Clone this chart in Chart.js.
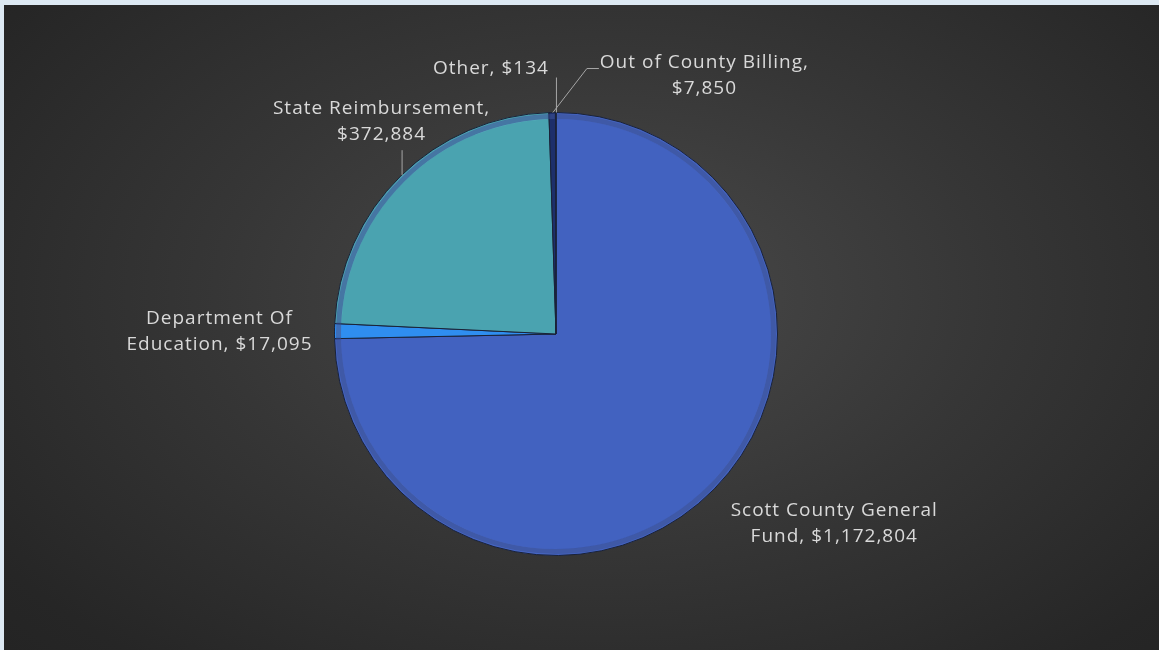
<!DOCTYPE html>
<html>
<head>
<meta charset="utf-8">
<script src="https://cdn.jsdelivr.net/npm/chart.js@4"></script>
<style>
  html, body { margin: 0; padding: 0; background: #dde9f3; }
  #panel {
    position: absolute; left: 4px; top: 5px; width: 1155px; height: 645px;
    background: radial-gradient(ellipse 75% 85% at 52% 45%, #4a4a4a 0%, #363636 45%, #262626 85%, #232323 100%);
  }
</style>
</head>
<body>
<div id="panel"><canvas id="fundChart" width="1155" height="645"></canvas></div>
<script>
// Data
var sources = ["Scott County General Fund", "Department Of Education", "State Reimbursement", "Out of County Billing", "Other"];
var amounts = [1172804, 17095, 372884, 7850, 134];
var labelLines = [
    ["Scott County General", "Fund, $1,172,804"],
    ["Department Of", "Education, $17,095"],
    ["State Reimbursement,", "$372,884"],
    ["Out of County Billing,", "$7,850"],
    ["Other, $134"]
];
var sliceColors = ["#4262c0", "#2f8ef0", "#4aa3b0", "#1d2f6b", "#2a3c78"];
var rimColors = ["#5b7fe0", "#66b8ff", "#70ccd9", "#34478a", "#34478a"];

// label placement relative to the middle of each slice's outer edge
var labelLayout = [
    { dx: 120, dy: 35, leader: null },
    { dx: -115, dy: 0, leader: null },
    { dx: -19, dy: -55, leader: [[1, -1], [1, -26]] },
    { dx: 152, dy: -37, leader: [[0, 0], [34, -44], [46, -44]] },
    { dx: -65, dy: -44, leader: [[0, 0], [0, -35]] }
];

var bevelAndLabels = {
    id: 'bevelAndLabels',
    afterDatasetsDraw: function(chart) {
        var c = chart.ctx;
        var arcs = chart.getDatasetMeta(0).data;
        arcs.forEach(function(arc, i) {
            var p = arc.getProps(['x', 'y', 'startAngle', 'endAngle', 'outerRadius']);
            // outer rim highlight
            c.save();
            c.beginPath();
            c.arc(p.x, p.y, p.outerRadius - 4, p.startAngle + 0.006, p.endAngle - 0.006);
            c.strokeStyle = rimColors[i];
            c.globalAlpha = 0.6;
            c.lineWidth = 5;
            c.stroke();
            c.restore();
        });
        arcs.forEach(function(arc, i) {
            var p = arc.getProps(['x', 'y', 'startAngle', 'endAngle', 'outerRadius']);
            var mid = (p.startAngle + p.endAngle) / 2;
            var ax = p.x + Math.cos(mid) * p.outerRadius;
            var ay = p.y + Math.sin(mid) * p.outerRadius;
            var lay = labelLayout[i];
            if (lay.leader) {
                c.save();
                c.beginPath();
                lay.leader.forEach(function(pt, k) {
                    if (k == 0) c.moveTo(ax + pt[0] + 0.5, ay + pt[1]);
                    else c.lineTo(ax + pt[0] + 0.5, ay + pt[1]);
                });
                c.strokeStyle = "#a6a6a6";
                c.lineWidth = 1;
                c.stroke();
                c.restore();
            }
            var lines = labelLines[i];
            var lh = 26;
            var cx = ax + lay.dx;
            var cy = ay + lay.dy - (lines.length - 1) * lh / 2;
            c.save();
            c.font = "19px 'Open Sans'";
            c.letterSpacing = "1px";
            c.fillStyle = "#d9d9d9";
            c.textAlign = "center";
            c.textBaseline = "middle";
            lines.forEach(function(t, k) {
                c.fillText(t, cx, cy + k * lh);
            });
            c.restore();
        });
    }
};

var ctx = document.getElementById('fundChart');
var myChart = new Chart(ctx, {
    type: 'pie',
    data: {
        labels: sources,
        datasets: [{
            data: amounts,
            backgroundColor: sliceColors,
            borderColor: "#1a2238",
            borderWidth: 1
        }]
    },
    options: {
        responsive: false,
        animation: false,
        layout: { padding: { left: 0, right: 51, top: 107, bottom: 94 } },
        plugins: {
            legend: { display: false },
            tooltip: { enabled: false }
        }
    },
    plugins: [bevelAndLabels]
});
</script>
</body>
</html>
